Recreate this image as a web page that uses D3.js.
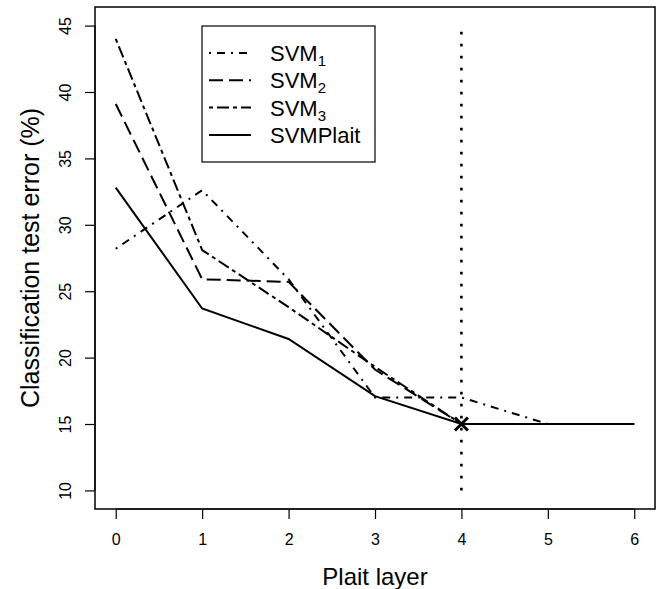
<!DOCTYPE html>
<html><head><meta charset="utf-8">
<script src="https://cdn.jsdelivr.net/npm/d3@7"></script>
<style>body{margin:0;background:#fff}svg{display:block}text{font-family:"Liberation Sans",Arial,Helvetica,sans-serif;fill:#000}</style>
</head><body>
<script>
const layers = [0, 1, 2, 3, 4, 5, 6];
const svm1 = [28.2, 32.6, 25.9, 17.0, 17.0, 15.0, 15.0];
const svm2 = [39.1, 25.9, 25.7, 19.1, 15.0, 15.0, 15.0];
const svm3 = [44.0, 28.1, 23.8, 19.3, 15.0, 15.0, 15.0];
const svmPlait = [32.8, 23.7, 21.4, 17.1, 15.0, 15.0, 15.0];
const seriesNames = ["SVM", "SVM", "SVM", "SVMPlait"];
const seriesSubs = ["1", "2", "3", ""];
const yTicks = [10, 15, 20, 25, 30, 35, 40, 45];
const xTicks = [0, 1, 2, 3, 4, 5, 6];
const bestLayer = 4, bestErr = 15.0;
const vlineRange = [10, 45];

const W = 659, H = 589;
const L = 95, R = 655, T = 7, B = 509;
const svg = d3.select("body").append("svg").attr("width", W).attr("height", H);
const x = d3.scaleLinear().domain([-0.24, 6.24]).range([L, R]);
const y = d3.scaleLinear().domain([8.6, 46.4]).range([B, T]);

const dashes = ["2,6,8,6", "14,6", "4,4,12,4", null];
const allSeries = [svm1, svm2, svm3, svmPlait];

// box
svg.append("rect").attr("x", L).attr("y", T).attr("width", R - L).attr("height", B - T)
  .attr("fill", "none").attr("stroke", "#000").attr("stroke-width", 1.5);

// axes
const xAxis = d3.axisBottom(x).tickValues(xTicks).tickSize(10).tickPadding(15).tickFormat(d3.format("d"));
const gx = svg.append("g").attr("transform", `translate(0,${B})`).call(xAxis);
gx.select(".domain").attr("d", `M${x(0)},0H${x(6)}`).attr("stroke-width", 1.2);
gx.selectAll(".tick line").attr("stroke-width", 1.2);
gx.selectAll("text").attr("font-size", 16).attr("font-family", "Liberation Sans, Arial, sans-serif");

const yAxis = d3.axisLeft(y).tickValues(yTicks).tickSize(10).tickFormat(d3.format("d"));
const gy = svg.append("g").attr("transform", `translate(${L},0)`).call(yAxis);
gy.select(".domain").attr("d", `M0,${y(10)}V${y(45)}`).attr("stroke-width", 1.2);
gy.selectAll(".tick line").attr("stroke-width", 1.2);
gy.selectAll("text").attr("font-size", 16).attr("font-family", "Liberation Sans, Arial, sans-serif")
  .attr("transform", "rotate(-90)").attr("x", 0).attr("y", -30).attr("dy", "0.35em")
  .attr("text-anchor", "middle");

// axis titles
svg.append("text").attr("x", (L + R) / 2).attr("y", 585).attr("text-anchor", "middle")
  .attr("font-size", 24).text("Plait layer");
svg.append("text").attr("transform", `translate(39,${(T + B) / 2}) rotate(-90)`)
  .attr("text-anchor", "middle").attr("font-size", 25).text("Classification test error (%)");

// vertical dotted line
svg.append("line").attr("x1", x(bestLayer)).attr("x2", x(bestLayer))
  .attr("y1", y(vlineRange[0])).attr("y2", y(vlineRange[1]))
  .attr("stroke", "#000").attr("stroke-width", 2.6).attr("stroke-dasharray", "2.6,9.4");

// series
const line = d3.line().x((d, i) => x(layers[i])).y(d => y(d));
allSeries.forEach((s, k) => {
  const p = svg.append("path").attr("d", line(s)).attr("fill", "none")
    .attr("stroke", "#000").attr("stroke-width", 2);
  if (dashes[k]) p.attr("stroke-dasharray", dashes[k]);
});

// best marker (cross)
const mx = x(bestLayer), my = y(bestErr), ms = 6.5;
svg.append("path").attr("d", `M${mx - ms},${my - ms}L${mx + ms},${my + ms}M${mx - ms},${my + ms}L${mx + ms},${my - ms}`)
  .attr("stroke", "#000").attr("stroke-width", 3).attr("fill", "none");

// legend
const lg = svg.append("g");
lg.append("rect").attr("x", 202).attr("y", 26).attr("width", 173).attr("height", 136)
  .attr("fill", "#fff").attr("stroke", "#000").attr("stroke-width", 1.2);
seriesNames.forEach((n, k) => {
  const cy = 53 + k * 27.3;
  const l = lg.append("line").attr("x1", 209).attr("x2", 251).attr("y1", cy).attr("y2", cy)
    .attr("stroke", "#000").attr("stroke-width", 2);
  if (dashes[k]) l.attr("stroke-dasharray", dashes[k]);
  const t = lg.append("text").attr("x", 270).attr("y", cy + 8).attr("font-size", 22);
  t.append("tspan").text(n);
  if (seriesSubs[k]) t.append("tspan").attr("font-size", 15).attr("dy", 5).text(seriesSubs[k]);
});
</script>
</body></html>
